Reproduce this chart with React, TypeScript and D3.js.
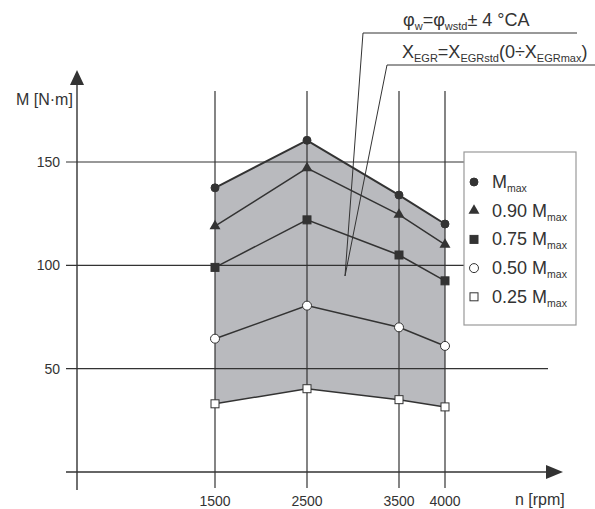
import * as d3 from "d3";

const speeds = [1500, 2500, 3500, 4000];
const mMax = [137.5, 160.5, 134, 120];
const m90 = [119, 147, 124.5, 110];
const m75 = [99, 122, 105, 92.5];
const m50 = [64.5, 80.5, 70, 61];
const m25 = [33, 40.3, 35, 31.5];
const yTicks = [50, 100, 150];
const legendLabels = ["", "0.90 ", "0.75 ", "0.50 ", "0.25 "];

const W = 595, H = 509;
const ink = "#333";

export default function App() {
  const x = d3.scaleLinear().domain([0, 4000]).range([77, 445]);
  const y = d3.scaleLinear().domain([0, 150]).range([472, 162]);

  const series = [
    { vals: mMax, kind: "circle", fill: ink, w: 2 },
    { vals: m90, kind: "triangle", fill: ink, w: 1.5 },
    { vals: m75, kind: "square", fill: ink, w: 1.5 },
    { vals: m50, kind: "circle", fill: "#fff", w: 1.5 },
    { vals: m25, kind: "square", fill: "#fff", w: 1.5 },
  ];

  const line = d3.line<number>().x((_, i) => x(speeds[i])).y(d => y(d));
  const area = d3.area<number>()
    .x((_, i) => x(speeds[i]))
    .y0((_, i) => y(m25[i]))
    .y1(d => y(d));

  const marker = (kind: string, fill: string, cx: number, cy: number, key: any) => {
    if (kind === "circle")
      return <circle key={key} cx={cx} cy={cy} r={fill === "#fff" ? 4.5 : 4} fill={fill} stroke={ink} strokeWidth={1} />;
    if (kind === "square")
      return <rect key={key} x={cx - 4} y={cy - 4} width={8} height={8} fill={fill} stroke={ink} strokeWidth={1} />;
    const t = d3.symbol(d3.symbolTriangle, 52)();
    return <path key={key} d={t || ""} transform={`translate(${cx},${cy})`} fill={fill} />;
  };

  const xEnd = 548;
  const legend = { x: 464, y: 152, w: 112, h: 173 };

  return (
    <svg width={W} height={H} style={{ position: "absolute", left: 0, top: 0, background: "#fff" }}
      fontFamily="'Liberation Sans', Arial, sans-serif">
      {/* shaded band */}
      <path d={area(mMax) || ""} fill="#b9babe" />

      {/* grid */}
      {yTicks.map(t => (
        <g key={t}>
          <line x1={66} x2={xEnd} y1={y(t)} y2={y(t)} stroke={ink} strokeWidth={1.2} />
          <text x={60} y={y(t) + 5} textAnchor="end" fontSize={14} fill={ink}>{t}</text>
        </g>
      ))}
      {speeds.map(s => (
        <g key={s}>
          <line x1={x(s)} x2={x(s)} y1={91} y2={488} stroke={ink} strokeWidth={1.2} />
          <text x={x(s)} y={506} textAnchor="middle" fontSize={14} fill={ink}>{s}</text>
        </g>
      ))}

      {/* axes */}
      <line x1={66} x2={550} y1={y(0)} y2={y(0)} stroke={ink} strokeWidth={1.4} />
      <path d={`M563,${y(0)} L546,${y(0) - 7} L546,${y(0) + 7} Z`} fill={ink} />
      <line x1={x(0)} x2={x(0)} y1={82} y2={490} stroke={ink} strokeWidth={1.4} />
      <path d={`M${x(0)},70 L${x(0) - 7},85 L${x(0) + 7},85 Z`} fill={ink} />
      <text x={16} y={105} fontSize={16} fill={ink}>M [N·m]</text>
      <text x={515} y={505} fontSize={16} fill={ink}>n [rpm]</text>

      {/* series */}
      {series.map((s, i) => (
        <path key={i} d={line(s.vals) || ""} fill="none" stroke={ink} strokeWidth={s.w} />
      ))}
      {series.map((s, i) => s.vals.map((v, j) => marker(s.kind, s.fill, x(speeds[j]), y(v), `${i}-${j}`)))}

      {/* annotations */}
      <line x1={363} y1={33} x2={577} y2={33} stroke={ink} strokeWidth={1} />
      <line x1={363} y1={33} x2={345} y2={276} stroke={ink} strokeWidth={1} />
      <line x1={387} y1={65} x2={595} y2={65} stroke={ink} strokeWidth={1} />
      <line x1={387} y1={65} x2={345} y2={276} stroke={ink} strokeWidth={1} />
      <text x={403} y={26} fontSize={18} fill={ink}>
        φ<tspan fontSize={11} dy={4}>w</tspan><tspan dy={-4}>=φ</tspan><tspan fontSize={11} dy={4}>wstd</tspan><tspan dy={-4}>± 4 °CA</tspan>
      </text>
      <text x={402} y={58} fontSize={18} fill={ink}>
        X<tspan fontSize={11} dy={4}>EGR</tspan><tspan dy={-4}>=X</tspan><tspan fontSize={11} dy={4}>EGRstd</tspan><tspan dy={-4}>(0÷X</tspan><tspan fontSize={11} dy={4}>EGRmax</tspan><tspan dy={-4}>)</tspan>
      </text>

      {/* legend */}
      <rect x={legend.x} y={legend.y} width={legend.w} height={legend.h} fill="#fff" stroke="#999" strokeWidth={1.2} />
      {series.map((s, i) => {
        const cy = 182 + i * 28.7;
        return (
          <g key={i}>
            {marker(s.kind, s.fill, 474, cy, "lg" + i)}
            <text x={492} y={cy + 6} fontSize={18} fill={ink}>
              {legendLabels[i]}M<tspan fontSize={10.5} dy={4}>max</tspan>
            </text>
          </g>
        );
      })}
    </svg>
  );
}
